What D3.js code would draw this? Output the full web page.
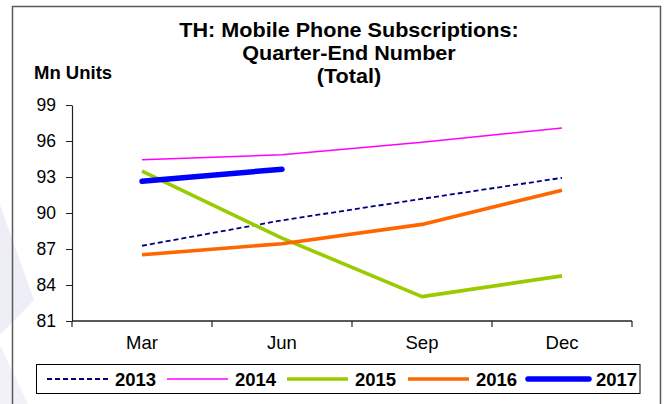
<!DOCTYPE html>
<html>
<head>
<meta charset="utf-8">
<script src="https://cdn.jsdelivr.net/npm/d3@7/dist/d3.min.js"></script>
<style>
  body { margin: 0; background: #fff; }
  svg { display: block; font-family: "Liberation Sans", Arial, sans-serif; }
</style>
</head>
<body>
<svg id="chart" width="665" height="404"></svg>
<script>
const categories = ["Mar", "Jun", "Sep", "Dec"];
const yTicks = [81, 84, 87, 90, 93, 96, 99];
const seriesNames = ["2013", "2014", "2015", "2016", "2017"];
const values2013 = [87.27, 89.39, 91.18, 92.93];
const values2014 = [94.44, 94.85, 95.9, 97.08];
const values2015 = [93.48, 87.91, 83.03, 84.76];
const values2016 = [86.52, 87.44, 89.05, 91.9];
const values2017 = [92.65, 93.65];
const titleLines = ["TH: Mobile Phone Subscriptions:", "Quarter-End Number", "(Total)"];

const styles = {
  "2013": {color: "#000080", width: 1.8, dash: "5,3"},
  "2014": {color: "#FF00FF", width: 1.6, dash: null},
  "2015": {color: "#99CC00", width: 3.6, dash: null},
  "2016": {color: "#FF6600", width: 3.6, dash: null},
  "2017": {color: "#0000FF", width: 5.5, dash: null}
};
const seriesData = [values2013, values2014, values2015, values2016, values2017];

const svg = d3.select("#chart");

// faint watermark shapes on the left
svg.append("polygon").attr("points", "0,205 34,300 0,335").attr("fill", "#eeeef6");
svg.append("polygon").attr("points", "0,345 28,404 0,404").attr("fill", "#f1f1f7");

// outer frame
svg.append("path")
  .attr("d", "M12.5,410 V6.5 H660.5 V410")
  .attr("fill", "none").attr("stroke", "#5a5a5a").attr("stroke-width", 1.5);

const x = d3.scalePoint().domain(categories).range([72, 632]).padding(0.5);
const xBand = d3.scaleBand().domain(categories).range([72, 632]);
const y = d3.scaleLinear().domain([81, 99]).range([321, 105]);

// title
const title = svg.append("text").attr("text-anchor", "middle")
  .attr("transform", "translate(349,0) scale(1.08,1)")
  .attr("font-weight", "bold").attr("font-size", 20).attr("fill", "#000");
titleLines.forEach((t, i) => {
  title.append("tspan").attr("x", 0).attr("y", 37.5 + i * 22.6).text(t);
});

svg.append("text").attr("x", 34).attr("y", 78.7)
  .attr("font-weight", "bold").attr("font-size", 18.5).text("Mn Units");

// y axis
const yAxis = svg.append("g").attr("transform", "translate(72,0)")
  .call(d3.axisLeft(y).tickValues(yTicks).tickSize(6).tickPadding(10).tickSizeOuter(0));
yAxis.select(".domain").attr("stroke", "#222").attr("stroke-width", 1.2);
yAxis.selectAll(".tick line").attr("stroke", "#222");
yAxis.selectAll(".tick text").attr("font-size", 17.5).attr("fill", "#000")
  .attr("font-family", "Liberation Sans, Arial, sans-serif");

// x axis
const xAxis = svg.append("g").attr("transform", "translate(0,321)");
xAxis.append("line").attr("x1", 72).attr("x2", 632).attr("y1", 0).attr("y2", 0)
  .attr("stroke", "#222").attr("stroke-width", 1.5);
const boundaries = categories.map(c => xBand(c)).concat([xBand(categories[categories.length - 1]) + xBand.bandwidth()]);
xAxis.selectAll(".xt").data(boundaries).enter().append("line")
  .attr("x1", d => d).attr("x2", d => d).attr("y1", 0).attr("y2", 6)
  .attr("stroke", "#222").attr("stroke-width", 1.2);
xAxis.selectAll(".xl").data(categories).enter().append("text")
  .attr("x", d => x(d)).attr("y", 28).attr("text-anchor", "middle")
  .attr("font-size", 18.5).attr("fill", "#000").text(d => d);

// lines
const line = d3.line().x((d, i) => x(categories[i])).y(d => y(d));
seriesNames.forEach((name, k) => {
  const s = styles[name];
  svg.append("path").datum(seriesData[k])
    .attr("d", line).attr("fill", "none")
    .attr("stroke", s.color).attr("stroke-width", s.width)
    .attr("stroke-dasharray", s.dash)
    .attr("stroke-linecap", name === "2017" ? "round" : "butt")
    .attr("stroke-linejoin", "round");
});

// legend
const lg = svg.append("g");
lg.append("rect").attr("x", 36.5).attr("y", 364.5).attr("width", 603.5).attr("height", 29)
  .attr("fill", "#fff").attr("stroke", "#000").attr("stroke-width", 1);
const legendStarts = [47, 167, 287, 408, 528];
seriesNames.forEach((name, k) => {
  const s = styles[name];
  const x0 = legendStarts[k];
  lg.append("line").attr("x1", x0).attr("x2", x0 + 61).attr("y1", 379).attr("y2", 379)
    .attr("stroke", s.color).attr("stroke-width", s.width)
    .attr("stroke-dasharray", s.dash)
    .attr("stroke-linecap", name === "2017" ? "round" : "butt");
  lg.append("text").attr("x", x0 + 68).attr("y", 385.5)
    .attr("font-weight", "bold").attr("font-size", 18.5).text(name);
});
</script>
</body>
</html>
